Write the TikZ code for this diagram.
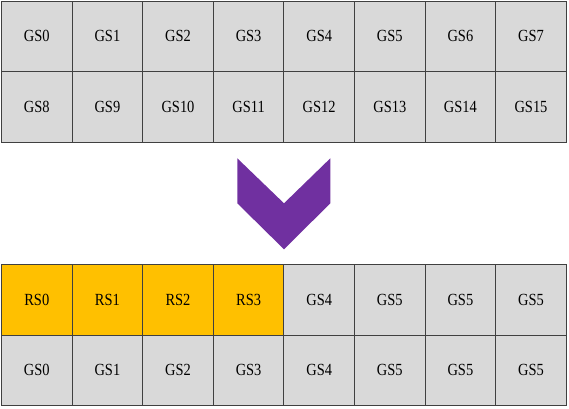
\documentclass[tikz,border=0pt]{standalone}
\usepackage{fontspec}
\setmainfont{Liberation Serif}[FakeStretch=0.85]
\definecolor{cellgray}{HTML}{D9D9D9}
\definecolor{cellorange}{HTML}{FFC000}
\definecolor{cellline}{HTML}{404040}
\definecolor{chevron}{HTML}{7030A0}
\begin{document}
\begin{tikzpicture}[x=1pt,y=-1pt,
  cell/.style={draw=cellline, line width=1pt, fill=cellgray, rectangle,
    minimum width=70.6pt, minimum height=70.5pt, inner sep=0pt,
    font=\fontsize{17}{17}\selectfont, text=black},
  rcell/.style={cell, fill=cellorange}]
\useasboundingbox (0,0) rectangle (569,408);
% top grid
\foreach \lab [count=\i from 0] in {GS0,GS1,GS2,GS3,GS4,GS5,GS6,GS7}
  \node[cell] (t1-\i) at (36.8+70.6*\i, 36.25) {\lab};
\foreach \lab [count=\i from 0] in {GS8,GS9,GS10,GS11,GS12,GS13,GS14,GS15}
  \node[cell] (t2-\i) at (36.8+70.6*\i, 106.75) {\lab};
% bottom grid
\foreach \lab/\st [count=\i from 0] in {RS0/rcell,RS1/rcell,RS2/rcell,RS3/rcell,GS4/cell,GS5/cell,GS5/cell,GS5/cell}
  \node[\st] (b1-\i) at (36.8+70.6*\i, 299.75) {\lab};
\foreach \lab [count=\i from 0] in {GS0,GS1,GS2,GS3,GS4,GS5,GS5,GS5}
  \node[cell] (b2-\i) at (36.8+70.6*\i, 370.25) {\lab};
% chevron
\fill[chevron] (237.3,158.3) -- (284,203.3) -- (330.3,158.3) -- (330.3,203.3)
  -- (284,249.3) -- (237.3,203.3) -- cycle;
\end{tikzpicture}
\end{document}
